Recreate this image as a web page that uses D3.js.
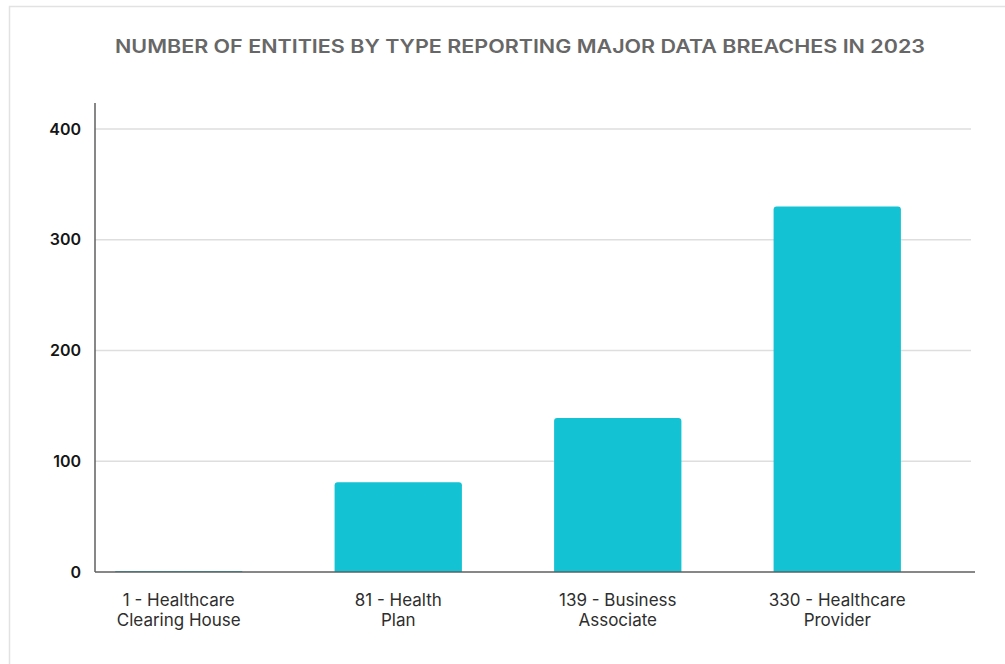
<!DOCTYPE html>
<html>
  <head>
    <meta charset="utf-8">
    <script src="https://cdn.jsdelivr.net/npm/d3@7"></script>
    <style type="text/css">
      body { margin: 0; background: #fff; }
      svg { display: block; font-family: Inter, "Liberation Sans", sans-serif; }
      .grid line { stroke: #dedede; stroke-width: 1.5; }
      .axis-line { stroke: #5f5f5f; stroke-width: 1.5; }
    </style>
  </head>
  <body>
    <div id="chart"></div>
    <script type="text/javascript">
      // data
      var categories = ["Healthcare Clearing House", "Health Plan", "Business Associate", "Healthcare Provider"],
          values = [1, 81, 139, 330],
          yTicks = [0, 100, 200, 300, 400],
          title = "NUMBER OF ENTITIES BY TYPE REPORTING MAJOR DATA BREACHES IN 2023";

      var width = 1005,
          height = 664,
          margin = {top: 103, right: 30, bottom: 92, left: 95};

      var svg = d3.select("#chart")
        .append("svg")
        .attr("width", width)
        .attr("height", height);

      // faint frame round the card
      svg.append("rect")
        .attr("x", 9.5).attr("y", 6.5)
        .attr("width", width + 20).attr("height", height + 20)
        .attr("fill", "none")
        .attr("stroke", "#e2e2e2")
        .attr("stroke-width", 1.5);

      svg.append("text")
        .attr("x", 520)
        .attr("y", 53)
        .attr("text-anchor", "middle")
        .attr("fill", "#676767")
        .attr("textLength", 810)
        .attr("lengthAdjust", "spacingAndGlyphs")
        .style("font-size", "18.5px")
        .style("font-weight", 600)
        .text(title);

      var x = d3.scaleBand()
        .domain(categories)
        .range([69, 947])
        .paddingInner(0.42)
        .paddingOuter(0.21);

      var y = d3.scaleLinear()
        .domain([0, 423.5])
        .range([height - margin.bottom, margin.top]);

      // gridlines
      svg.append("g")
        .attr("class", "grid")
        .selectAll("line")
        .data(yTicks.filter(function(d) { return d > 0; }))
        .enter()
          .append("line")
          .attr("x1", margin.left)
          .attr("x2", 971)
          .attr("y1", function(d) { return y(d); })
          .attr("y2", function(d) { return y(d); });

      // bars with slightly rounded tops
      function barPath(d, i) {
        var x0 = x(categories[i]), w = x.bandwidth(),
            y0 = y(0), y1 = y(d),
            r = Math.min(3, (y0 - y1) / 2);
        return "M" + x0 + "," + y0 +
          "V" + (y1 + r) +
          "Q" + x0 + "," + y1 + " " + (x0 + r) + "," + y1 +
          "H" + (x0 + w - r) +
          "Q" + (x0 + w) + "," + y1 + " " + (x0 + w) + "," + (y1 + r) +
          "V" + y0 + "Z";
      }

      svg.append("g")
        .selectAll("path")
        .data(values)
        .enter()
          .append("path")
          .attr("d", barPath)
          .attr("fill", "#13c2d3");

      // axes
      var yAxis = d3.axisLeft(y).tickValues(yTicks).tickSize(0).tickPadding(14);
      var gy = svg.append("g")
        .attr("transform", "translate(" + margin.left + ",0)")
        .call(yAxis);
      gy.select(".domain").remove();
      gy.selectAll("text")
        .attr("fill", "#151515")
        .style("font-size", "16px")
        .style("font-weight", 600)
        .style("font-family", "Inter, 'Liberation Sans', sans-serif");

      svg.append("line")
        .attr("class", "axis-line")
        .attr("x1", margin.left).attr("x2", margin.left)
        .attr("y1", y.range()[1]).attr("y2", y(0));

      svg.append("line")
        .attr("class", "axis-line")
        .attr("x1", margin.left).attr("x2", 975)
        .attr("y1", y(0)).attr("y2", y(0));

      // category labels: "value - first word" / rest
      var labels = svg.append("g")
        .selectAll("text")
        .data(categories)
        .enter()
          .append("text")
          .attr("text-anchor", "middle")
          .attr("fill", "#2e2e2e")
          .style("font-size", "17px")
          .attr("transform", function(d) {
            return "translate(" + (x(d) + x.bandwidth() / 2) + "," + (y(0) + 34) + ")";
          });

      labels.each(function(d, i) {
        var words = d.split(" "),
            lines = [values[i] + " - " + words[0], words.slice(1).join(" ")],
            t = d3.select(this);
        lines.forEach(function(line, j) {
          t.append("tspan")
            .attr("x", 0)
            .attr("y", j * 20)
            .text(line);
        });
      });
    </script>
  </body>
</html>
